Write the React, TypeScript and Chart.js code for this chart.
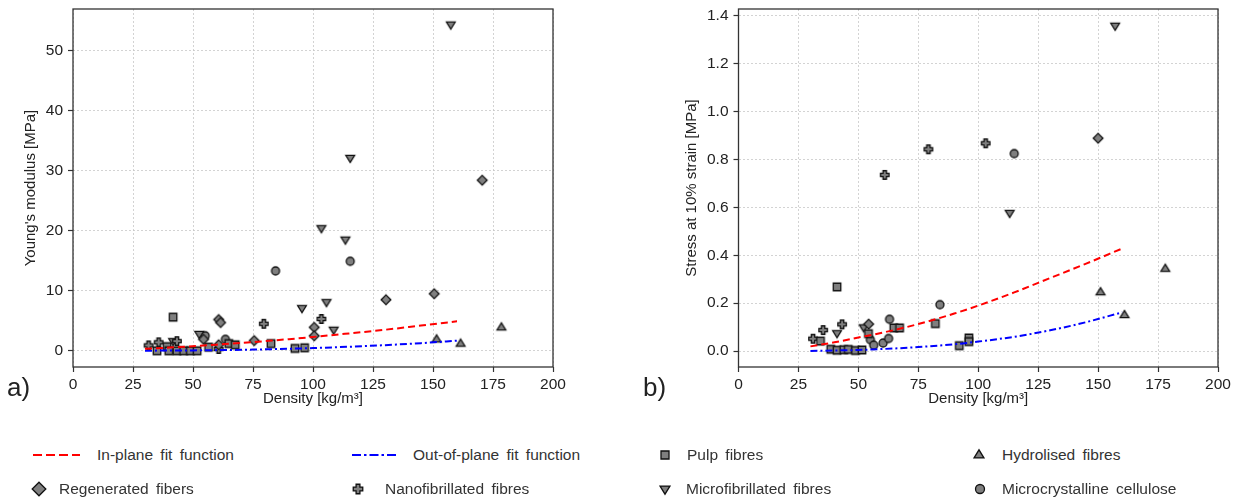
import React, { useEffect, useRef } from "react";
import { Chart, registerables } from "chart.js";
Chart.register(...registerables);

// ---------- axis ticks ----------
const xTicks = [0, 25, 50, 75, 100, 125, 150, 175, 200];
const yTicksA = [0, 10, 20, 30, 40, 50];
const yTicksB = [0, 0.2, 0.4, 0.6, 0.8, 1.0, 1.2, 1.4];

// ---------- fit functions ----------
const fitDensity = [30, 40, 50, 60, 75, 90, 100, 115, 130, 145, 160];
const inPlaneA = [0.33, 0.53, 0.76, 1.02, 1.45, 1.94, 2.3, 2.89, 3.5, 4.2, 4.9];
const outPlaneA = [0.02, 0.035, 0.065, 0.11, 0.2, 0.34, 0.45, 0.67, 0.94, 1.27, 1.68];
const inPlaneB = [0.02, 0.037, 0.057, 0.077, 0.113, 0.157, 0.19, 0.245, 0.305, 0.365, 0.428];
const outPlaneB = [0.001, 0.003, 0.005, 0.009, 0.017, 0.029, 0.04, 0.06, 0.087, 0.121, 0.162];

// ---------- panel a) Young's modulus ----------
const pulpDA = [35, 39.2, 39.9, 41.7, 43.3, 46.1, 48.9, 51.7, 56.5, 64.9, 67.6, 82.5, 92.5, 96.5];
const pulpEA = [0, 0.7, 0, 5.6, 0, 0, 0, 0, 0.6, 1.2, 1.0, 1.2, 0.4, 0.5];
const regenDA = [54.4, 60.7, 61.5, 60.7, 75.5, 100.5, 100.5, 130.4, 150.5, 170.5];
const regenEA = [1.9, 5.2, 4.7, 1.0, 1.7, 3.9, 2.5, 8.5, 9.5, 28.4];
const nanoDA = [31.5, 35.7, 43.3, 60.7, 79.5, 103.5];
const nanoEA = [0.9, 1.4, 1.6, 0.3, 4.5, 5.3];
const microDA = [41.7, 52.6, 95.4, 103.5, 105.6, 108.6, 113.5, 115.5, 157.4];
const microEA = [1.6, 2.8, 7.1, 20.4, 8.1, 3.5, 18.5, 32.1, 54.3];
const hydroDA = [151.5, 161.5, 178.5];
const hydroEA = [1.9, 1.2, 3.9];
const mccDA = [55.1, 63.5, 84.4, 115.5];
const mccEA = [2.5, 1.9, 13.3, 14.9];

// ---------- panel b) Stress at 10% strain ----------
const pulpDB = [34.2, 38.5, 41.1, 41.1, 43.9, 45.8, 48.8, 51.5, 54.2, 64.8, 67.2, 82.1, 92.1, 96.1, 96.1];
const pulpSB = [0.042, 0.008, 0.268, 0.004, 0.006, 0.007, 0.003, 0.005, 0.073, 0.097, 0.097, 0.115, 0.023, 0.055, 0.04];
const regenDB = [54.3, 150];
const regenSB = [0.113, 0.888];
const nanoDB = [31.1, 35.3, 43.2, 61, 79.2, 103.1];
const nanoSB = [0.052, 0.088, 0.112, 0.735, 0.842, 0.867];
const microDB = [41.1, 52.2, 113.1, 157.1];
const microSB = [0.075, 0.099, 0.576, 1.357];
const hydroDB = [151, 161, 178];
const hydroSB = [0.246, 0.151, 0.344];
const mccDB = [55, 56.4, 60.3, 62.6, 63, 84, 115];
const mccSB = [0.048, 0.025, 0.034, 0.053, 0.133, 0.194, 0.824];

const FONT = "'Liberation Sans', Arial, sans-serif";
const TEXT = "#222";

type Shape = "square" | "diamond" | "triDown" | "triUp" | "circle" | "plus";

function drawMarker(ctx: CanvasRenderingContext2D, shape: Shape, cx: number, cy: number, s: number) {
  ctx.save();
  ctx.fillStyle = "#7f7f7f";
  ctx.strokeStyle = "#111";
  ctx.lineWidth = 1.3;
  ctx.lineJoin = "miter";
  ctx.beginPath();
  if (shape === "square") {
    const h = s / 2;
    ctx.rect(cx - h, cy - h, 2 * h, 2 * h);
  } else if (shape === "diamond") {
    const h = s * 0.65;
    ctx.moveTo(cx, cy - h);
    ctx.lineTo(cx + h, cy);
    ctx.lineTo(cx, cy + h);
    ctx.lineTo(cx - h, cy);
    ctx.closePath();
  } else if (shape === "triDown") {
    const h = s * 0.55;
    ctx.moveTo(cx - h, cy - 0.6 * h);
    ctx.lineTo(cx + h, cy - 0.6 * h);
    ctx.lineTo(cx, cy + 1.05 * h);
    ctx.closePath();
  } else if (shape === "triUp") {
    const h = s * 0.55;
    ctx.moveTo(cx - h, cy + 0.6 * h);
    ctx.lineTo(cx + h, cy + 0.6 * h);
    ctx.lineTo(cx, cy - 1.05 * h);
    ctx.closePath();
  } else if (shape === "circle") {
    ctx.arc(cx, cy, s / 2, 0, Math.PI * 2);
  } else if (shape === "plus") {
    const a = s * 0.2;
    const L = s * 0.5;
    ctx.moveTo(cx - a, cy - L);
    ctx.lineTo(cx + a, cy - L);
    ctx.lineTo(cx + a, cy - a);
    ctx.lineTo(cx + L, cy - a);
    ctx.lineTo(cx + L, cy + a);
    ctx.lineTo(cx + a, cy + a);
    ctx.lineTo(cx + a, cy + L);
    ctx.lineTo(cx - a, cy + L);
    ctx.lineTo(cx - a, cy + a);
    ctx.lineTo(cx - L, cy + a);
    ctx.lineTo(cx - L, cy - a);
    ctx.lineTo(cx - a, cy - a);
    ctx.closePath();
  }
  ctx.fill();
  ctx.stroke();
  ctx.restore();
}

const markerSize: Record<Shape, number> = {
  square: 7.5,
  diamond: 7.5,
  triDown: 8,
  triUp: 8,
  circle: 8,
  plus: 8.5,
};

function markerImage(shape: Shape): HTMLCanvasElement {
  const c = document.createElement("canvas");
  c.width = 16;
  c.height = 16;
  const ctx = c.getContext("2d")!;
  drawMarker(ctx, shape, 8, 8, markerSize[shape]);
  return c;
}

const pts = (xs: number[], ys: number[]) => xs.map((x, i) => ({ x, y: ys[i] }));

const boxPlugin = {
  id: "boxPlugin",
  afterDraw(chart: any) {
    const { ctx, chartArea } = chart;
    const { left, top, right, bottom } = chartArea;
    ctx.save();
    ctx.strokeStyle = "#333";
    ctx.lineWidth = 1.3;
    ctx.strokeRect(left, top, right - left, bottom - top);
    ctx.restore();
  },
};

interface PanelSpec {
  inPlane: number[];
  outPlane: number[];
  series: { d: number[]; v: number[]; shape: Shape; label: string }[];
  yTicks: number[];
  yMin: number;
  yMax: number;
  yTitle: string;
  decimals: number;
  padLeft: number;
  yWidth: number;
  padRight: number;
}

function ChartPanel({ spec, width, height }: { spec: PanelSpec; width: number; height: number }) {
  const ref = useRef<HTMLCanvasElement>(null);
  useEffect(() => {
    if (!ref.current) return;
    const datasets: any[] = [
      {
        label: "In-plane fit function",
        data: pts(fitDensity, spec.inPlane),
        showLine: true,
        borderColor: "#ff0000",
        borderWidth: 2,
        borderDash: [7, 4],
        pointRadius: 0,
        cubicInterpolationMode: "monotone",
        fill: false,
      },
      {
        label: "Out-of-plane fit function",
        data: pts(fitDensity, spec.outPlane),
        showLine: true,
        borderColor: "#0000ff",
        borderWidth: 2,
        borderDash: [7, 3, 2, 3],
        pointRadius: 0,
        cubicInterpolationMode: "monotone",
        fill: false,
      },
      ...spec.series.map((s) => ({
        label: s.label,
        data: pts(s.d, s.v),
        showLine: false,
        pointStyle: markerImage(s.shape),
        pointRadius: 4,
      })),
    ];
    const tickFont = { family: FONT, size: 15.5 };
    const chart = new Chart(ref.current, {
      type: "scatter",
      data: { datasets },
      plugins: [boxPlugin],
      options: {
        animation: false,
        responsive: false,
        maintainAspectRatio: false,
        devicePixelRatio: 1,
        layout: {
          autoPadding: false,
          padding: { left: spec.padLeft, top: 9, right: spec.padRight, bottom: 0 },
        },
        plugins: { legend: { display: false }, tooltip: { enabled: false } },
        scales: {
          x: {
            type: "linear",
            min: 0,
            max: 200,
            afterBuildTicks: (scale: any) => {
              scale.ticks = xTicks.map((v) => ({ value: v }));
            },
            afterFit: (scale: any) => {
              scale.height = 43;
              scale.paddingLeft = 0;
              scale.paddingRight = 0;
            },
            ticks: {
              font: tickFont,
              color: TEXT,
              padding: 3,
              maxRotation: 0,
              autoSkip: false,
              callback: (v: any) => String(v),
            },
            grid: {
              color: "#c8c8c8",
              lineWidth: 0.8,
              tickColor: "#333",
              tickLength: 5,
              tickWidth: 1.2,
              tickBorderDash: [],
            },
            border: { display: false, dash: [2, 2] },
            title: {
              display: true,
              text: "Density [kg/m³]",
              font: { family: FONT, size: 15 },
              color: TEXT,
              padding: { top: 0, bottom: 2 },
            },
          },
          y: {
            type: "linear",
            min: spec.yMin,
            max: spec.yMax,
            afterBuildTicks: (scale: any) => {
              scale.ticks = spec.yTicks.map((v) => ({ value: v }));
            },
            afterFit: (scale: any) => {
              scale.width = spec.yWidth;
              scale.paddingTop = 0;
              scale.paddingBottom = 0;
            },
            ticks: {
              font: tickFont,
              color: TEXT,
              padding: 5,
              autoSkip: false,
              callback: (v: any) => Number(v).toFixed(spec.decimals),
            },
            grid: {
              color: "#c8c8c8",
              lineWidth: 0.8,
              tickColor: "#333",
              tickLength: 5,
              tickWidth: 1.2,
              tickBorderDash: [],
            },
            border: { display: false, dash: [2, 2] },
            title: {
              display: true,
              text: spec.yTitle,
              font: { family: FONT, size: 15 },
              color: TEXT,
              padding: { top: 0, bottom: 0 },
            },
          },
        },
      } as any,
    });
    return () => chart.destroy();
  }, [spec]);
  return <canvas ref={ref} width={width} height={height} style={{ width, height, display: "block" }} />;
}

function LegendMarker({ shape, size }: { shape: Shape; size: number }) {
  const ref = useRef<HTMLCanvasElement>(null);
  useEffect(() => {
    const c = ref.current;
    if (!c) return;
    const ctx = c.getContext("2d")!;
    ctx.clearRect(0, 0, 20, 20);
    drawMarker(ctx, shape, 10, 10, size);
  }, [shape, size]);
  return <canvas ref={ref} width={20} height={20} style={{ width: 20, height: 20, display: "block" }} />;
}

const specA: PanelSpec = {
  inPlane: inPlaneA,
  outPlane: outPlaneA,
  series: [
    { d: pulpDA, v: pulpEA, shape: "square", label: "Pulp fibres" },
    { d: regenDA, v: regenEA, shape: "diamond", label: "Regenerated fibers" },
    { d: nanoDA, v: nanoEA, shape: "plus", label: "Nanofibrillated fibres" },
    { d: microDA, v: microEA, shape: "triDown", label: "Microfibrillated fibres" },
    { d: hydroDA, v: hydroEA, shape: "triUp", label: "Hydrolised fibres" },
    { d: mccDA, v: mccEA, shape: "circle", label: "Microcrystalline cellulose" },
  ],
  yTicks: yTicksA,
  yMin: -2.7,
  yMax: 56.9,
  yTitle: "Young's modulus [MPa]",
  decimals: 0,
  padLeft: 22,
  yWidth: 51,
  padRight: 47,
};

const specB: PanelSpec = {
  inPlane: inPlaneB,
  outPlane: outPlaneB,
  series: [
    { d: pulpDB, v: pulpSB, shape: "square", label: "Pulp fibres" },
    { d: regenDB, v: regenSB, shape: "diamond", label: "Regenerated fibers" },
    { d: nanoDB, v: nanoSB, shape: "plus", label: "Nanofibrillated fibres" },
    { d: microDB, v: microSB, shape: "triDown", label: "Microfibrillated fibres" },
    { d: hydroDB, v: hydroSB, shape: "triUp", label: "Hydrolised fibres" },
    { d: mccDB, v: mccSB, shape: "circle", label: "Microcrystalline cellulose" },
  ],
  yTicks: yTicksB,
  yMin: -0.066,
  yMax: 1.427,
  yTitle: "Stress at 10% strain [MPa]",
  decimals: 1,
  padLeft: 43,
  yWidth: 55.5,
  padRight: 21,
};

const legendText: React.CSSProperties = {
  position: "absolute",
  fontFamily: FONT,
  fontSize: 15.5,
  color: "#333",
  lineHeight: "20px",
  height: 20,
  whiteSpace: "nowrap",
  wordSpacing: 3,
};

function LineSample({ color, dash, left, cy }: { color: string; dash: string; left: number; cy: number }) {
  return (
    <svg style={{ position: "absolute", left, top: cy - 3 }} width={48} height={6}>
      <line x1={0} y1={3} x2={47} y2={3} stroke={color} strokeWidth={2.2} strokeDasharray={dash} />
    </svg>
  );
}

export default function App() {
  const row1 = 455;
  const row2 = 489;
  const markers: { shape: Shape; size: number; cx: number; cy: number; text: string; tx: number }[] = [
    { shape: "square", size: 8, cx: 665, cy: row1, text: "Pulp fibres", tx: 687 },
    { shape: "triUp", size: 9, cx: 979, cy: row1, text: "Hydrolised fibres", tx: 1002 },
    { shape: "diamond", size: 10.5, cx: 39, cy: row2, text: "Regenerated fibers", tx: 59 },
    { shape: "plus", size: 9.5, cx: 358, cy: row2, text: "Nanofibrillated fibres", tx: 385 },
    { shape: "triDown", size: 9, cx: 665, cy: row2, text: "Microfibrillated fibres", tx: 686 },
    { shape: "circle", size: 9, cx: 980, cy: row2, text: "Microcrystalline cellulose", tx: 1002 },
  ];
  return (
    <div
      style={{
        position: "fixed",
        left: 0,
        top: 0,
        width: 1239,
        height: 502,
        background: "#fff",
        overflow: "hidden",
      }}
    >
      <div style={{ position: "absolute", left: 0, top: 0 }}>
        <ChartPanel spec={specA} width={600} height={410} />
      </div>
      <div style={{ position: "absolute", left: 640, top: 0 }}>
        <ChartPanel spec={specB} width={599} height={410} />
      </div>
      <div style={{ position: "absolute", left: 7, top: 374, fontFamily: FONT, fontSize: 26, lineHeight: "26px", color: "#222" }}>a)</div>
      <div style={{ position: "absolute", left: 643, top: 374, fontFamily: FONT, fontSize: 26, lineHeight: "26px", color: "#222" }}>b)</div>

      <LineSample color="#ff0000" dash="9 4" left={33} cy={row1} />
      <div style={{ ...legendText, left: 97, top: row1 - 10 }}>In-plane fit function</div>
      <LineSample color="#0000ff" dash="9 3 2.5 3" left={352} cy={row1} />
      <div style={{ ...legendText, left: 413, top: row1 - 10 }}>Out-of-plane fit function</div>

      {markers.map((m) => (
        <React.Fragment key={m.text}>
          <div style={{ position: "absolute", left: m.cx - 10, top: m.cy - 10 }}>
            <LegendMarker shape={m.shape} size={m.size} />
          </div>
          <div style={{ ...legendText, left: m.tx, top: m.cy - 10 }}>{m.text}</div>
        </React.Fragment>
      ))}
    </div>
  );
}
